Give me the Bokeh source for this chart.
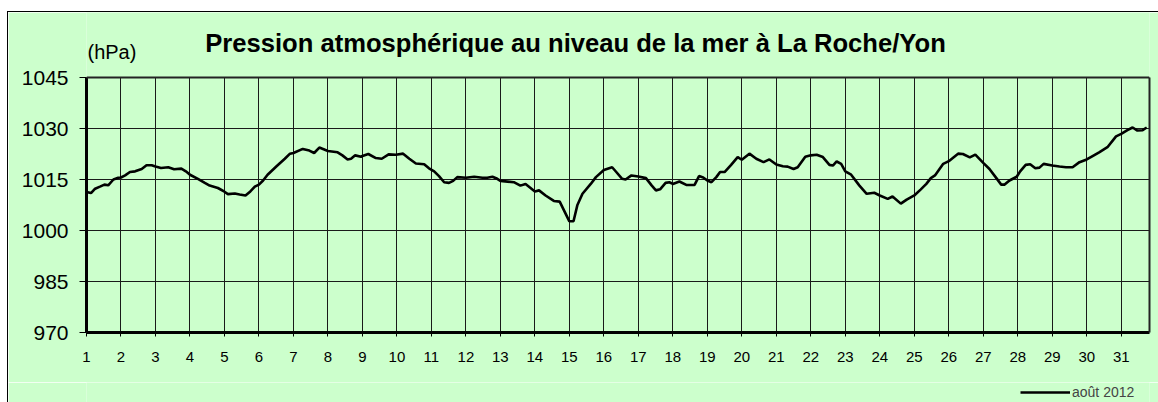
from bokeh.plotting import figure
from bokeh.layouts import column
from bokeh.models import (Range1d, FixedTicker, Label, Legend, LegendItem, ColumnDataSource,
                          LinearAxis, Span, Grid)
from bokeh.embed import file_html
from bokeh.resources import INLINE

# ---- data ----
days = [1.00, 1.13, 1.25, 1.39, 1.52, 1.63, 1.78, 1.92, 2.00, 2.12, 2.26, 2.41, 2.60, 2.74, 2.89,
        3.00, 3.16, 3.37, 3.54, 3.75, 3.88, 4.00, 4.23, 4.43, 4.57, 4.81, 5.00, 5.10, 5.30, 5.44,
        5.61, 5.75, 5.88, 6.00, 6.12, 6.25, 6.51, 6.75, 6.90, 7.00, 7.27, 7.46, 7.60, 7.75, 8.00,
        8.28, 8.42, 8.57, 8.67, 8.79, 8.96, 9.00, 9.17, 9.39, 9.56, 9.76, 9.97, 10.18, 10.36, 10.55,
        10.79, 10.93, 11.08, 11.22, 11.37, 11.51, 11.63, 11.75, 12.00, 12.24, 12.48, 12.62, 12.77, 12.91, 13.00,
        13.39, 13.58, 13.73, 14.00, 14.12, 14.31, 14.55, 14.72, 15.00, 15.12, 15.23, 15.38, 15.62, 15.77,
        16.00, 16.24, 16.36, 16.53, 16.63, 16.80, 17.00, 17.22, 17.39, 17.51, 17.63, 17.79, 17.90, 18.00,
        18.19, 18.39, 18.63, 18.76, 18.88, 19.00, 19.12, 19.26, 19.37, 19.50, 19.69, 19.88, 20.00, 20.22,
        20.42, 20.63, 20.80, 21.00, 21.19, 21.33, 21.50, 21.62, 21.84, 22.00, 22.17, 22.35, 22.54, 22.64,
        22.75, 22.88, 23.00, 23.17, 23.41, 23.62, 23.84, 24.00, 24.23, 24.37, 24.61, 24.78, 25.00, 25.19,
        25.35, 25.48, 25.60, 25.84, 26.00, 26.27, 26.41, 26.61, 26.77, 27.00, 27.18, 27.38, 27.52, 27.62,
        27.76, 27.97, 28.07, 28.23, 28.36, 28.51, 28.63, 28.75, 29.00, 29.21, 29.40, 29.59, 29.79, 30.00,
        30.17, 30.36, 30.60, 30.85, 31.00, 31.18, 31.33, 31.47, 31.62, 31.74]
pressure = [1011.3, 1011.0, 1012.3, 1012.9, 1013.5, 1013.3, 1015.0, 1015.5, 1015.6, 1016.2, 1017.2, 1017.4, 1018.1, 1019.2, 1019.2,
            1018.8, 1018.4, 1018.6, 1018.0, 1018.2, 1017.4, 1016.4, 1015.2, 1014.0, 1013.2, 1012.5, 1011.4, 1010.7, 1010.9, 1010.6,
            1010.3, 1011.5, 1012.9, 1013.5, 1014.7, 1016.4, 1018.9, 1021.1, 1022.6, 1022.8, 1024.0, 1023.5, 1022.8, 1024.4, 1023.4,
            1023.0, 1022.1, 1020.9, 1021.1, 1022.1, 1021.7, 1021.9, 1022.5, 1021.3, 1021.1, 1022.4, 1022.3, 1022.6, 1021.1, 1019.7,
            1019.5, 1018.3, 1017.4, 1016.0, 1014.2, 1014.0, 1014.6, 1015.7, 1015.5, 1015.8, 1015.5, 1015.5, 1015.8, 1015.2, 1014.6,
            1014.2, 1013.2, 1013.7, 1011.5, 1011.8, 1010.3, 1008.7, 1008.5, 1002.7, 1002.7, 1007.4, 1010.8, 1013.7, 1015.7,
            1017.8, 1018.6, 1017.2, 1015.2, 1015.0, 1016.2, 1015.9, 1015.4, 1013.2, 1011.8, 1012.1, 1014.0, 1014.2, 1013.7,
            1014.4, 1013.4, 1013.4, 1016.0, 1015.6, 1014.7, 1014.2, 1015.7, 1017.2, 1017.2, 1019.3, 1021.6, 1020.8, 1022.6,
            1021.1, 1020.1, 1020.9, 1019.4, 1018.9, 1018.8, 1018.1, 1018.6, 1021.7, 1022.1, 1022.3, 1021.6, 1019.3, 1019.1,
            1020.3, 1019.6, 1017.4, 1016.4, 1013.2, 1010.8, 1011.1, 1010.3, 1009.3, 1010.0, 1007.9, 1009.1, 1010.3, 1012.1,
            1013.7, 1015.4, 1016.2, 1019.6, 1020.4, 1022.6, 1022.5, 1021.5, 1022.3, 1019.9, 1018.1, 1015.4, 1013.5, 1013.5,
            1014.7, 1015.8, 1017.4, 1019.3, 1019.5, 1018.3, 1018.5, 1019.6, 1019.1, 1018.8, 1018.6, 1018.6, 1020.1, 1020.9,
            1021.9, 1023.0, 1024.5, 1027.7, 1028.4, 1029.5, 1030.3, 1029.4, 1029.5, 1030.3]
day_ticks = list(range(1, 32))
pressure_ticks = [970, 985, 1000, 1015, 1030, 1045]
title_text = "Pression atmosphérique au niveau de la mer à La Roche/Yon"
unit_text = "(hPa)"
series_name = "août 2012"

FONT = "Liberation Sans"
GREEN = "#CCFFCC"

# layout geometry (pixels)
FRAME_H = 320          # frame from canvas top down to the x axis
PLOT_H = 255           # height of the 970..1045 band
y_lo, y_hi = pressure_ticks[0], pressure_ticks[-1]
y_top = y_lo + (y_hi - y_lo) * FRAME_H / PLOT_H   # extra room above for the titles

p = figure(width=1150, height=370, output_backend="svg", toolbar_location=None,
           x_range=Range1d(1, 31.82), y_range=Range1d(y_lo, y_top),
           min_border_left=78, min_border_right=9, min_border_top=0, min_border_bottom=50)
p.background_fill_color = GREEN
p.border_fill_color = GREEN
p.outline_line_color = None

# axes
p.xaxis.ticker = FixedTicker(ticks=day_ticks)
p.yaxis.ticker = FixedTicker(ticks=pressure_ticks)
p.yaxis.bounds = (y_lo, y_hi)
for ax in (p.xaxis[0], p.yaxis[0]):
    ax.axis_line_color = "black"
    ax.axis_line_width = 3
    ax.major_tick_line_color = "black"
    ax.major_tick_in = 0
    ax.minor_tick_line_color = None
    ax.major_label_text_font = FONT
    ax.major_label_text_color = "black"
p.xaxis.major_tick_out = 4
p.xaxis.major_label_text_font_size = "15px"
p.xaxis.major_label_standoff = 15
p.yaxis.major_tick_out = 7
p.yaxis.major_label_text_font_size = "21px"
p.yaxis.major_label_standoff = 11

# right border of the plot area as a bare axis
rax = LinearAxis(ticker=FixedTicker(ticks=[]), bounds=(y_lo, y_hi),
                 axis_line_color="#222222", axis_line_width=2,
                 major_tick_out=0, major_tick_in=0, minor_tick_line_color=None,
                 major_label_text_font_size="0px", major_label_standoff=0)
p.add_layout(rax, "right")

# grid
p.xgrid.ticker = FixedTicker(ticks=day_ticks)
p.ygrid.ticker = FixedTicker(ticks=pressure_ticks)
for g in (p.xgrid[0], p.ygrid[0]):
    g.grid_line_color = "#1a1a1a"
    g.grid_line_width = 1
    g.grid_line_alpha = 1.0
if "cross_bounds" in Grid.properties():
    p.xgrid.cross_bounds = (y_lo, y_hi)
else:
    p.xgrid.visible = False
    p.segment(x0=day_ticks, y0=[y_lo] * len(day_ticks), x1=day_ticks, y1=[y_hi] * len(day_ticks),
              line_color="#1a1a1a", line_width=1)
p.add_layout(Span(location=y_hi, dimension="width", line_color="#222222", line_width=2))

src = ColumnDataSource(dict(x=days, y=pressure))
r = p.line("x", "y", source=src, line_color="black", line_width=2.6)

# texts (screen units: from the frame's bottom-left corner)
p.add_layout(Label(x=489, y=290, x_units="screen", y_units="screen", text=title_text,
                   text_font=FONT, text_font_size="25.6px", text_font_style="bold",
                   text_align="center", text_baseline="alphabetic", text_color="black"))
p.add_layout(Label(x=1, y=281, x_units="screen", y_units="screen", text=unit_text,
                   text_font=FONT, text_font_size="20px",
                   text_align="left", text_baseline="alphabetic", text_color="black"))

# legend strip below the chart (its frame is aligned with the chart's frame)
q = figure(width=1150, height=20, output_backend="svg", toolbar_location=None,
           x_axis_type=None, y_axis_type=None, min_border=0,
           x_range=Range1d(0, 1), y_range=Range1d(0, 1))
q.background_fill_color = GREEN
q.border_fill_color = GREEN
q.outline_line_color = None
q.xgrid.visible = False
q.ygrid.visible = False
lr = q.line("x", "y", source=src, line_color="black", line_width=2.6)  # out of view: legend sample only
legend = Legend(items=[LegendItem(label=series_name, renderers=[lr])],
                location=(934, 2), orientation="horizontal",
                glyph_width=50, glyph_height=14, label_height=14,
                label_text_font=FONT, label_text_font_size="14px", label_standoff=2,
                padding=0, margin=0, spacing=0,
                border_line_color=None, background_fill_alpha=0)
q.add_layout(legend, "center")

layout = column(p, q, spacing=0)
layout.styles = {"border-left": "1px solid black", "border-top": "1px solid black",
                 "margin-left": "7px", "margin-top": "11px"}

open("out.html", "w").write(file_html(layout, INLINE))
